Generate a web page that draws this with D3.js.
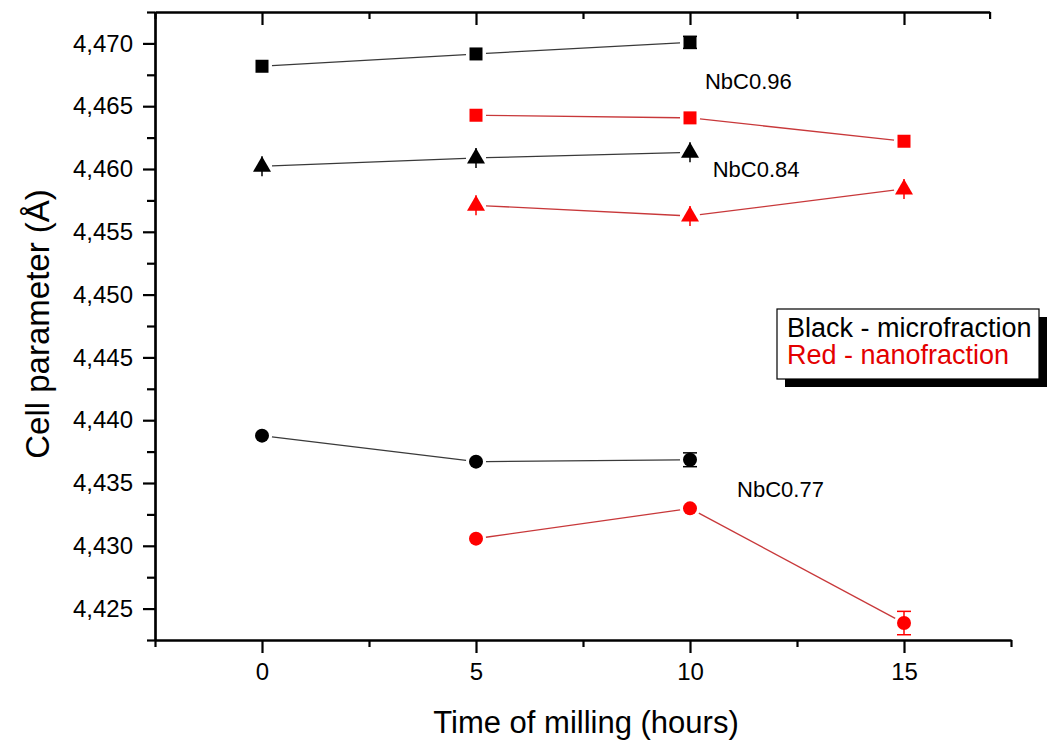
<!DOCTYPE html>
<html>
<head>
<meta charset="utf-8">
<script src="https://cdn.jsdelivr.net/npm/d3@7"></script>
<style>
  html, body { margin: 0; padding: 0; background: #fff; }
  svg { display: block; }
  text { font-family: "Liberation Sans", Arial, sans-serif; }
</style>
</head>
<body>
<svg id="chart" width="1048" height="744"></svg>
<script>
// Milling time (hours) for each sample
const timeMicro = [0, 5, 10];
const timeNano = [5, 10, 15];

// Lattice parameter, microfraction (black)
const nbc096Micro = [4.46818, 4.46916, 4.47008];
const nbc084Micro = [4.46022, 4.46088, 4.46133];
const nbc077Micro = [4.43877, 4.43670, 4.43685];

// Lattice parameter, nanofraction (red)
const nbc096Nano = [4.46428, 4.46407, 4.46221];
const nbc084Nano = [4.45711, 4.45626, 4.45841];
const nbc077Nano = [4.43057, 4.43298, 4.42385];

// Error bar half-widths
const nbc096MicroErr = [0, 0, 0.00048];
const nbc084MicroErr = [0.0008, 0.0008, 0.0008];
const nbc077MicroErr = [0, 0, 0.00055];
const nbc096NanoErr = [0, 0, 0];
const nbc084NanoErr = [0.0008, 0.0008, 0.0008];
const nbc077NanoErr = [0, 0, 0.00093];

// Axis ticks
const xTicks = [0, 5, 10, 15];
const xMinorTicks = [-2.5, 2.5, 7.5, 12.5, 17.5];
const yTicks = [4.425, 4.430, 4.435, 4.440, 4.445, 4.450, 4.455, 4.460, 4.465, 4.470];
const yMinorTicks = [4.4225, 4.4275, 4.4325, 4.4375, 4.4425, 4.4475, 4.4525, 4.4575, 4.4625, 4.4675, 4.4725];

// Text labels
const xTitle = "Time of milling (hours)";
const yTitle = "Cell parameter (Å)";
const compositionLabels = [
  { text: "NbC0.96", t: 10.35, v: 4.46637 },
  { text: "NbC0.84", t: 10.53, v: 4.45935 },
  { text: "NbC0.77", t: 11.1, v: 4.43390 }
];
const legendLines = [
  { text: "Black - microfraction", color: "#000000" },
  { text: "Red - nanofraction", color: "#e30000" }
];

const BLACK = "#000000", BLACK_LINE = "#3a3a3a";
const RED = "#ff0000", RED_LINE = "#c8383a";

const series = [
  { t: timeMicro, v: nbc096Micro, e: nbc096MicroErr, shape: "square", fill: BLACK, line: BLACK_LINE },
  { t: timeMicro, v: nbc084Micro, e: nbc084MicroErr, shape: "triangle", fill: BLACK, line: BLACK_LINE },
  { t: timeMicro, v: nbc077Micro, e: nbc077MicroErr, shape: "circle", fill: BLACK, line: BLACK_LINE },
  { t: timeNano, v: nbc096Nano, e: nbc096NanoErr, shape: "square", fill: RED, line: RED_LINE },
  { t: timeNano, v: nbc084Nano, e: nbc084NanoErr, shape: "triangle", fill: RED, line: RED_LINE },
  { t: timeNano, v: nbc077Nano, e: nbc077NanoErr, shape: "circle", fill: RED, line: RED_LINE }
];

const svg = d3.select("#chart");
const plot = { left: 155, right: 1011, top: 12, bottom: 640 };

const x = d3.scaleLinear().domain([-2.5, 17.5]).range([plot.left, plot.right]);
const y = d3.scaleLinear().domain([4.4225, 4.4725]).range([plot.bottom, plot.top]);

const fmt = v => d3.format(".3f")(v).replace(".", ",");

// ---- axes ----
function styleAxis(g) {
  g.selectAll("path.domain").attr("stroke", "#000").attr("stroke-width", 2.2);
  g.selectAll(".tick line").attr("stroke", "#000").attr("stroke-width", 2.2);
}

// bottom axis: majors with labels, minors without
svg.append("g")
  .attr("transform", `translate(0,${plot.bottom})`)
  .call(d3.axisBottom(x).tickValues(xMinorTicks).tickSize(7).tickFormat("").tickSizeOuter(0))
  .call(styleAxis);
const xAxisG = svg.append("g")
  .attr("transform", `translate(0,${plot.bottom})`)
  .call(d3.axisBottom(x).tickValues(xTicks).tickSize(13).tickPadding(10).tickFormat(d3.format("d")).tickSizeOuter(0))
  .call(styleAxis);
xAxisG.selectAll(".tick text").attr("font-size", 24).attr("fill", "#000")
  .attr("font-family", "Liberation Sans, Arial, sans-serif");

// left axis
svg.append("g")
  .attr("transform", `translate(${plot.left},0)`)
  .call(d3.axisLeft(y).tickValues(yMinorTicks).tickSize(8).tickFormat("").tickSizeOuter(0))
  .call(styleAxis);
const yAxisG = svg.append("g")
  .attr("transform", `translate(${plot.left},0)`)
  .call(d3.axisLeft(y).tickValues(yTicks).tickSize(12).tickPadding(10).tickFormat(fmt).tickSizeOuter(0))
  .call(styleAxis);
yAxisG.selectAll(".tick text").attr("font-size", 24).attr("fill", "#000")
  .attr("font-family", "Liberation Sans, Arial, sans-serif");

// top axis: ticks pointing inward, no labels, ends short of the right edge
const topEnd = 17;
const xTop = d3.scaleLinear().domain([-2.5, topEnd]).range([plot.left, x(topEnd)]);
svg.append("g")
  .attr("transform", `translate(0,${plot.top})`)
  .call(d3.axisTop(xTop).tickValues(xMinorTicks.filter(d => d < topEnd).concat([topEnd])).tickSize(-7).tickFormat("").tickSizeOuter(0))
  .call(styleAxis);
svg.append("g")
  .attr("transform", `translate(0,${plot.top})`)
  .call(d3.axisTop(xTop).tickValues(xTicks).tickSize(-13).tickFormat("").tickSizeOuter(0))
  .call(styleAxis);

// ---- axis titles ----
svg.append("text")
  .attr("x", 586).attr("y", 733)
  .attr("text-anchor", "middle")
  .attr("font-size", 31)
  .attr("fill", "#000")
  .text(xTitle);

svg.append("text")
  .attr("transform", `translate(49,${324}) rotate(-90)`)
  .attr("text-anchor", "middle")
  .attr("font-size", 33)
  .attr("fill", "#000")
  .text(yTitle);

// ---- series ----
const markerGap = 10;
function shortened(p0, p1, r) {
  const dx = p1[0] - p0[0], dy = p1[1] - p0[1];
  const len = Math.hypot(dx, dy);
  const ux = dx / len, uy = dy / len;
  return [[p0[0] + ux * r, p0[1] + uy * r], [p1[0] - ux * r, p1[1] - uy * r]];
}

const seriesG = svg.append("g");
series.forEach(s => {
  const pts = s.t.map((t, i) => [x(t), y(s.v[i])]);
  const g = seriesG.append("g");

  // connecting segments, stopped short of the markers
  for (let i = 0; i < pts.length - 1; i++) {
    const seg = shortened(pts[i], pts[i + 1], markerGap);
    g.append("line")
      .attr("x1", seg[0][0]).attr("y1", seg[0][1])
      .attr("x2", seg[1][0]).attr("y2", seg[1][1])
      .attr("stroke", s.line).attr("stroke-width", 1.3);
  }

  // error bars
  s.t.forEach((t, i) => {
    const err = s.e[i];
    if (!err) return;
    const cx = x(t);
    const y0 = y(s.v[i] - err), y1 = y(s.v[i] + err);
    g.append("line").attr("x1", cx).attr("x2", cx).attr("y1", y0).attr("y2", y1)
      .attr("stroke", s.fill).attr("stroke-width", 1.5);
    if (s.shape !== "triangle") {
      [y0, y1].forEach(yy => g.append("line")
        .attr("x1", cx - 7).attr("x2", cx + 7).attr("y1", yy).attr("y2", yy)
        .attr("stroke", s.fill).attr("stroke-width", 1.5));
    }
  });

  // markers
  pts.forEach(p => {
    if (s.shape === "square") {
      g.append("rect").attr("x", p[0] - 6.5).attr("y", p[1] - 6.5)
        .attr("width", 13).attr("height", 13).attr("fill", s.fill);
    } else if (s.shape === "circle") {
      g.append("circle").attr("cx", p[0]).attr("cy", p[1]).attr("r", 7).attr("fill", s.fill);
    } else {
      const tri = d3.path();
      tri.moveTo(p[0], p[1] - 10);
      tri.lineTo(p[0] + 9, p[1] + 5.5);
      tri.lineTo(p[0] - 9, p[1] + 5.5);
      tri.closePath();
      g.append("path").attr("d", tri.toString()).attr("fill", s.fill);
    }
  });
});

// ---- composition labels ----
svg.append("g").selectAll("text")
  .data(compositionLabels)
  .join("text")
  .attr("x", d => x(d.t))
  .attr("y", d => y(d.v))
  .attr("font-family", "'Open Sans', sans-serif")
  .attr("font-size", 22)
  .attr("fill", "#000")
  .text(d => d.text);

// ---- legend box with drop shadow ----
const legend = svg.append("g").attr("transform", "translate(777,309)");
const legendW = 262, legendH = 70;
legend.append("rect").attr("x", 8).attr("y", 8).attr("width", legendW).attr("height", legendH).attr("fill", "#000");
legend.append("rect").attr("x", 0).attr("y", 0).attr("width", legendW).attr("height", legendH)
  .attr("fill", "#fff").attr("stroke", "#000").attr("stroke-width", 1.2);
legend.selectAll("text.leg")
  .data(legendLines)
  .join("text")
  .attr("class", "leg")
  .attr("x", 10)
  .attr("y", (d, i) => 28 + i * 27)
  .attr("font-size", 27)
  .attr("fill", d => d.color)
  .text(d => d.text);
</script>
</body>
</html>
